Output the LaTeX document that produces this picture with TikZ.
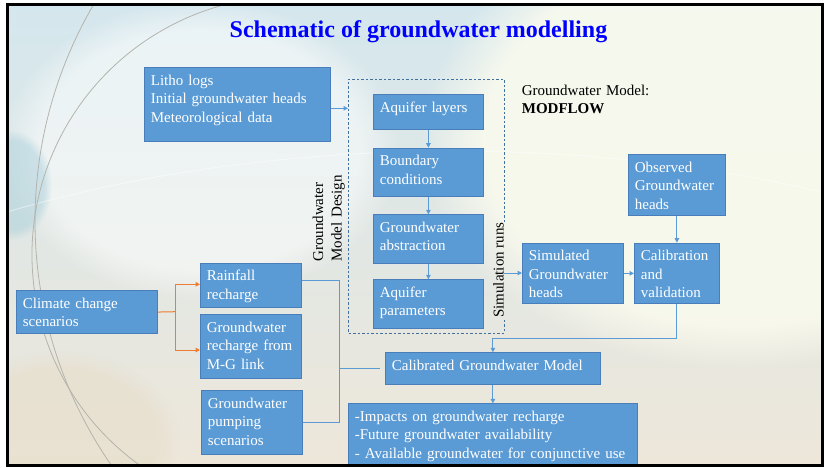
\documentclass[tikz,border=0pt]{standalone}
\usepackage{fontspec}
\setmainfont{Liberation Serif}
\usetikzlibrary{arrows.meta,fadings}
\definecolor{boxfill}{HTML}{5B9BD5}
\definecolor{boxline}{HTML}{4A7EBB}
\definecolor{dashline}{HTML}{41719C}
\definecolor{linkblue}{HTML}{5B9BD5}
\definecolor{linkorange}{HTML}{ED7D31}
\definecolor{titleblue}{HTML}{0000FF}
\definecolor{skytop}{HTML}{D4E7EE}
\definecolor{sandbottom}{HTML}{EEE7DA}
\definecolor{sanddark}{HTML}{E6DCC8}
\definecolor{ivory}{HTML}{FBFBEE}
\definecolor{arcgrey}{HTML}{B4B4AC}
\definecolor{tealpatch}{HTML}{8FC3D4}

% one flowchart box: name, left x, top y, text width, text depth, text
\newcommand{\gwnode}[6]{\node[gwbox, text width=#4pt, text depth=#5pt] (#1) at (#2,#3) {#6};}

\begin{document}
\begin{tikzpicture}[x=1pt,y=-1pt,
  gwbox/.style={draw=boxline, line width=0.8pt, fill=boxfill, text=white,
    font=\fontsize{15}{18.5}\selectfont, align=left, anchor=north west,
    inner xsep=6.5pt, inner ysep=0pt, text height=17.7pt},
  link/.style={draw=linkblue, line width=1pt},
  linkarr/.style={link, -{Triangle[length=4.5pt,width=4.5pt]}},
  orangelink/.style={draw=linkorange, line width=1pt},
  orangearr/.style={orangelink, -{Triangle[length=4.5pt,width=4.5pt]}},
  plain/.style={font=\fontsize{15}{18.5}\selectfont, inner sep=0pt},
  designframe/.style={draw=dashline, line width=0.8pt, dash pattern=on 2.5pt off 2pt},
]
\useasboundingbox (0,0) rectangle (824,467);
\fill[white] (0,0) rectangle (824,467);

% slide background
\begin{scope}
  \clip (7,4.5) rectangle (822,465.5);
  \shade[top color=skytop, bottom color=sandbottom] (0,0) rectangle (824,467);
  \fill[ivory, opacity=0.85, path fading=circle with fuzzy edge 20 percent]
    (740,140) ellipse [x radius=320pt, y radius=230pt];
  \fill[white, opacity=0.5, path fading=circle with fuzzy edge 20 percent]
    (200,150) ellipse [x radius=200pt, y radius=150pt];
  \fill[tealpatch, opacity=0.35, path fading=circle with fuzzy edge 20 percent]
    (12,185) ellipse [x radius=40pt, y radius=55pt];
  \fill[sanddark, opacity=0.5, path fading=circle with fuzzy edge 20 percent]
    (60,440) ellipse [x radius=120pt, y radius=90pt];
  \draw[white, opacity=0.45, line width=1pt]
    (7,212) .. controls (250,140) and (560,130) .. (822,192);
  \draw[arcgrey, line width=0.8pt] (464,221) ++(145:429) arc[start angle=145, end angle=211, radius=429];
  \draw[arcgrey, line width=0.8pt] (291,255) ++(125:259) arc[start angle=125, end angle=256, radius=259];
\end{scope}

% title
\node[font=\bfseries\fontsize{24}{28}\selectfont, text=titleblue, anchor=base, inner sep=0pt]
  (title) at (418.5,37) {Schematic of groundwater modelling};

% inputs and model design
\gwnode{litho}{144}{67.3}{173}{55.8}{Litho logs\\Initial groundwater heads\\Meteorological data}
\gwnode{aqlay}{373}{94.3}{97}{17.3}{Aquifer layers}
\gwnode{bound}{373}{147.7}{97}{30.6}{Boundary\\conditions}
\gwnode{abstr}{373}{214.3}{97}{30.7}{Groundwater\\abstraction}
\gwnode{aqpar}{373}{279.3}{97}{31.3}{Aquifer\\parameters}

% simulation and calibration
\gwnode{simh}{522}{242.7}{88}{42.8}{Simulated\\Groundwater\\heads}
\gwnode{calib}{634}{242.7}{72}{42.8}{Calibration\\and\\validation}
\gwnode{obs}{628}{154.3}{84}{43.3}{Observed\\Groundwater\\heads}

% scenarios
\gwnode{climate}{16}{290}{128}{25.6}{Climate change\\scenarios}
\gwnode{rain}{200}{262.7}{88}{26.6}{Rainfall\\recharge}
\gwnode{gwrech}{200}{314.3}{88}{46.3}{Groundwater\\recharge~from\\M-G link}
\gwnode{pump}{201}{390}{88}{46.6}{Groundwater\\pumping\\scenarios}

% outputs
\gwnode{calmod}{385}{352.3}{202}{14.3}{Calibrated Groundwater Model}
\gwnode{impacts}{348}{403.3}{276}{45.3}{-Impacts on groundwater recharge\\-Future groundwater availability\\- Available groundwater for conjunctive use}

% model design frame, open where the side label sits
\coordinate (dsgnNW) at (348,79);
\coordinate (dsgnSE) at (504,333);
\coordinate (dsgnGapTop) at (504,222);
\coordinate (dsgnGapBot) at (504,318);
\draw[designframe] (dsgnGapTop) |- (dsgnNW) |- (dsgnSE) -- (dsgnGapBot);

% free labels
\node[plain, rotate=90, anchor=base west, text width=90pt, align=left]
  (designlbl) at (323,262) {Groundwater\\Model Design};
\node[plain, rotate=90, anchor=base west] (simlbl) at (503.5,318) {Simulation runs};
\node[plain, anchor=base west, text width=150pt, align=left]
  (modelname) at (521.7,95) {Groundwater Model:\\\textbf{MODFLOW}};

% connectors
\draw[linkarr] (litho.east |- 0,108.3) -- (dsgnNW |- 0,108.3);
\draw[linkarr] (aqlay) -- (bound);
\draw[linkarr] (bound) -- (abstr);
\draw[linkarr] (abstr) -- (aqpar);
\coordinate (simout) at (504,273);
\draw[linkarr] (simout) -- (simh.west |- simout);
\draw[linkarr] (simh) -- (calib);
\draw[linkarr] (obs) -- (calib);
\draw[linkarr] (calib.south) -- ++(0,34) -| (calmod.north);
\draw[linkarr] (calmod) -- (impacts);

\coordinate (fork) at (175,311.7);
\draw[orangelink] (climate.east) -- (fork);
\draw[orangearr] (fork) |- (rain.west |- 0,284.3);
\draw[orangearr] (fork) |- (gwrech.west |- 0,350);

\coordinate (bus) at (339.3,368.3);
\draw[link] (rain.east |- 0,280) -| (bus |- pump.east) -- (pump.east);
\draw[link] (bus |- calmod.west) -- ([xshift=-5pt]calmod.west);

% slide border
\draw[black, line width=3pt] (7,4.5) rectangle (822,465.5);
\end{tikzpicture}
\end{document}
